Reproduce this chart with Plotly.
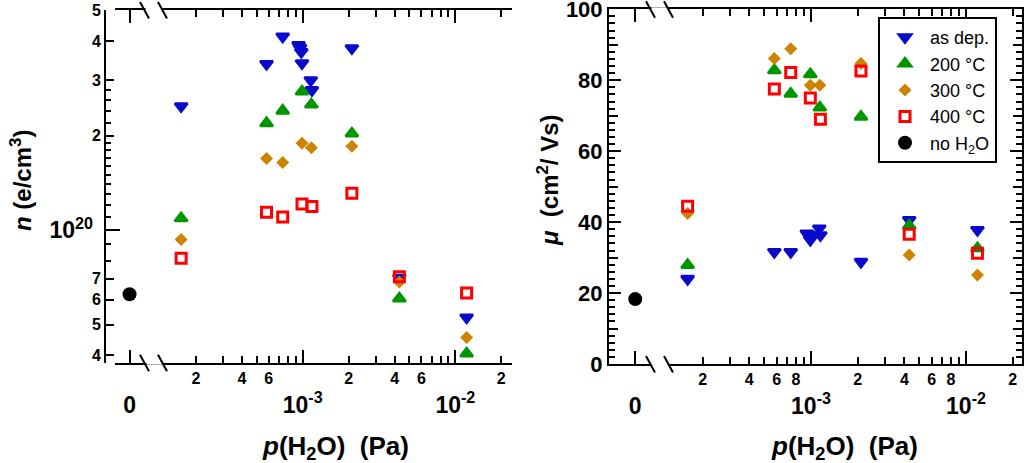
import plotly.graph_objects as go

# where the "0" (no water) point sits on the broken log axis
ZERO_X = 7.35e-5

# p(H2O) in Pa for each series
x_dep = [1.6e-4, 5.8e-4, 7.4e-4, 9.4e-4, 9.6e-4, 9.8e-4, 9.9e-4, 1.13e-3, 1.15e-3, 2.1e-3, 4.3e-3, 1.185e-2]
x_200 = [1.6e-4, 5.8e-4, 7.4e-4, 9.9e-4, 1.14e-3, 2.1e-3, 4.3e-3, 1.185e-2]
x_300 = [1.6e-4, 5.8e-4, 7.4e-4, 9.9e-4, 1.14e-3, 2.1e-3, 4.3e-3, 1.185e-2]
x_400 = [1.6e-4, 5.8e-4, 7.4e-4, 9.9e-4, 1.15e-3, 2.1e-3, 4.3e-3, 1.185e-2]

# carrier density n (e/cm3)
n_dep = [2.48e20, 3.38e20, 4.13e20, 3.88e20, 3.80e20, 3.69e20, 3.40e20, 3.00e20, 2.79e20, 3.79e20, 7.05e19, 5.27e19]
n_200 = [1.09e20, 2.19e20, 2.40e20, 2.76e20, 2.51e20, 2.03e20, 6.06e19, 4.05e19]
n_300 = [9.34e19, 1.69e20, 1.64e20, 1.89e20, 1.83e20, 1.85e20, 6.84e19, 4.55e19]
n_400 = [8.13e19, 1.14e20, 1.10e20, 1.21e20, 1.19e20, 1.31e20, 7.10e19, 6.31e19]
n_noh2o = [6.25e19]

# mobility mu (cm2/Vs)
mu_dep = [24.0, 31.6, 31.6, 36.8, 36.5, 35.8, 35.0, 38.2, 36.3, 28.8, 40.6, 37.8]
mu_200 = [27.9, 82.8, 76.2, 81.7, 72.3, 69.7, 39.0, 32.6]
mu_300 = [42.4, 86.1, 88.9, 78.6, 78.6, 84.7, 30.7, 25.1]
mu_400 = [44.5, 77.5, 82.2, 75.0, 69.0, 82.6, 36.6, 31.2]
mu_noh2o = [18.3]

FONT = "Liberation Sans, Arial, sans-serif"
W, H = 1024, 463

series = [
    ("as dep.", x_dep, n_dep, mu_dep, "triangle-down", "#0A0ACC", 11, 2.5),
    ("200 °C", x_200, n_200, mu_200, "triangle-up", "#009600", 11, 2.5),
    ("300 °C", x_300, n_300, mu_300, "diamond", "#CC8400", 10, 0),
    ("400 °C", x_400, n_400, mu_400, "square-open", "#FF0000", 10, 3),
    ("no H<sub>2</sub>O", [ZERO_X], n_noh2o, mu_noh2o, "circle", "black", 14, 0),
]

fig = go.Figure()
for i, (name, xs, ns, mus, sym, col, sz, lw) in enumerate(series):
    mk = dict(symbol=sym, color=col, size=sz, line=dict(width=lw, color=col))
    fig.add_trace(go.Scatter(x=xs, y=ns, mode="markers", marker=mk, xaxis="x", yaxis="y",
                             showlegend=False, legendgroup=str(i)))
    fig.add_trace(go.Scatter(x=xs, y=mus, mode="markers", marker=mk, xaxis="x2", yaxis="y2",
                             name=name, legendgroup=str(i)))

# empty traces so that the overlay tick axes get drawn
for xa, ya in [("x3", "y"), ("x", "y3"), ("x4", "y2"), ("x2", "y4")]:
    fig.add_trace(go.Scatter(x=[], y=[], mode="markers", xaxis=xa, yaxis=ya,
                             showlegend=False, hoverinfo="skip"))

# ---- ticks
major_x = [ZERO_X, 1e-3, 1e-2]
major_xt = ["0", "10<sup>-3</sup>", "10<sup>-2</sup>"]

xt_left = [2e-4, 4e-4, 6e-4, 2e-3, 4e-3, 6e-3, 2e-2]
xl_left = ["2", "4", "6", "2", "4", "6", "2"]
xm_left = [3e-4, 5e-4, 7e-4, 8e-4, 9e-4, 3e-3, 5e-3, 7e-3, 8e-3, 9e-3]

xt_right = [2e-4, 4e-4, 6e-4, 8e-4, 2e-3, 4e-3, 6e-3, 8e-3, 2e-2]
xl_right = ["2", "4", "6", "8", "2", "4", "6", "8", "2"]
xm_right = [3e-4, 5e-4, 7e-4, 9e-4, 3e-3, 5e-3, 7e-3, 9e-3]

yt_left = [4e19, 5e19, 6e19, 7e19, 2e20, 3e20, 4e20, 5e20]
yl_left = ["4", "5", "6", "7", "2", "3", "4", "5"]
ym_left = [8e19, 9e19, 1.1e20, 1.2e20, 1.3e20, 1.4e20, 1.5e20, 1.6e20, 1.7e20, 1.8e20, 1.9e20,
           2.2e20, 2.4e20, 2.6e20, 2.8e20]

mu_ticks = [0, 20, 40, 60, 80, 100]
mu_mid = [10, 30, 50, 70, 90]

bold16 = dict(family=FONT, size=16, color="black", weight="bold")
bold23 = dict(family=FONT, size=23, color="black", weight="bold")
common = dict(showgrid=False, zeroline=False, showline=True, linewidth=2, linecolor="black",
              ticks="inside", tickwidth=2, tickcolor="black", mirror="ticks", automargin=False,
              tickangle=0, tickfont=bold16)
overlay = dict(showgrid=False, zeroline=False, showline=False, ticks="inside", tickwidth=2,
               tickcolor="black", mirror="ticks", automargin=False, tickangle=0)

xl_dom = [115 / W, 512 / W]
xr_dom = [609 / W, 1022 / W]
yl_dom = [1 - 362.7 / H, 1 - 10 / H]
yr_dom = [1 - 364 / H, 1 - 9.3 / H]
xl_rng = [-4.229, -1.629]
xr_rng = [-4.303, -1.639]
nl_rng = [19.578, 20.7006]

fig.update_layout(
    template="none",
    width=W, height=H, margin=dict(l=0, r=0, t=0, b=0, autoexpand=False),
    paper_bgcolor="white", plot_bgcolor="white",
    xaxis=dict(type="log", domain=xl_dom, range=xl_rng, anchor="y", tickmode="array",
               tickvals=xt_left, ticktext=xl_left, ticklen=7, ticklabelstandoff=0,
               minor=dict(tickmode="array", tickvals=xm_left, ticks="inside", ticklen=7,
                          tickwidth=2, tickcolor="black", showgrid=False), **common),
    xaxis3=dict(type="log", overlaying="x", anchor="y", range=xl_rng, tickmode="array",
                tickvals=major_x, ticktext=major_xt, ticklen=13, tickfont=bold23,
                ticklabelstandoff=26, **overlay),
    yaxis=dict(type="log", domain=yl_dom, range=nl_rng, anchor="free", position=105 / W,
               tickmode="array", tickvals=yt_left, ticktext=yl_left, ticklen=8,
               minor=dict(tickmode="array", tickvals=ym_left, ticks="inside", ticklen=5,
                          tickwidth=2, tickcolor="black", showgrid=False), **common),
    yaxis3=dict(type="log", overlaying="y", anchor="free", position=105 / W, range=nl_rng,
                tickmode="array", tickvals=[1e20], ticktext=["10<sup>20</sup>"], ticklen=14,
                tickfont=bold23, ticklabelstandoff=12, **overlay),
    xaxis2=dict(type="log", domain=xr_dom, range=xr_rng, anchor="y2", tickmode="array",
                tickvals=xt_right, ticktext=xl_right, ticklen=7, ticklabelstandoff=0,
                minor=dict(tickmode="array", tickvals=xm_right, ticks="inside", ticklen=7,
                           tickwidth=2, tickcolor="black", showgrid=False), **common),
    xaxis4=dict(type="log", overlaying="x2", anchor="y2", range=xr_rng, tickmode="array",
                tickvals=major_x, ticktext=major_xt, ticklen=13, tickfont=bold23,
                ticklabelstandoff=26, **overlay),
    yaxis2=dict(domain=yr_dom, range=[0, 100], anchor="x2", tickmode="array",
                tickvals=mu_ticks, ticklen=12,
                minor=dict(dtick=2, ticks="inside", ticklen=6, tickwidth=2, tickcolor="black",
                           showgrid=False), **common),
    yaxis4=dict(overlaying="y2", anchor="x2", range=[0, 100], tickmode="array",
                tickvals=mu_mid, ticklen=9, showticklabels=False, **overlay),
    legend=dict(x=878 / W, xanchor="left", y=1 - 17 / H, yanchor="top", bgcolor="white",
                bordercolor="black", borderwidth=2, tracegroupgap=0, itemwidth=40,
                entrywidth=105, entrywidthmode="pixels",
                font=dict(family=FONT, size=18, color="black")),
)
fig.update_yaxes(tickfont=dict(size=22), selector=dict(anchor="x2"))

# axis titles
xfont = dict(family=FONT, size=26, color="black", weight="bold")
yfont = dict(family=FONT, size=24, color="black", weight="bold")
ann = dict(xref="paper", yref="paper", showarrow=False, xanchor="center", yanchor="middle")
fig.add_annotation(text="<i>p</i>(H<sub>2</sub>O) &nbsp;(Pa)", x=335 / W, y=1 - 447 / H, font=xfont, **ann)
fig.add_annotation(text="<i>p</i>(H<sub>2</sub>O) &nbsp;(Pa)", x=844 / W, y=1 - 447 / H, font=xfont, **ann)
fig.add_annotation(text="<i>n</i> (e/cm<sup>3</sup>)", x=21 / W, y=1 - 181 / H, textangle=-90, font=yfont, **ann)
fig.add_annotation(text="<i>μ</i> &nbsp;(cm<sup>2</sup>/ Vs)", x=548 / W, y=1 - 180 / H, textangle=-90,
                   font=yfont, **ann)

# axis break marks
def brk(x0, y_axis, gap0, gap1):
    fig.add_shape(type="line", xref="paper", yref="paper", x0=gap0 / W, x1=gap1 / W,
                  y0=1 - y_axis / H, y1=1 - y_axis / H, line=dict(color="white", width=4), layer="above")
    for dx in (0, 18):
        fig.add_shape(type="line", xref="paper", yref="paper",
                      x0=(x0 + dx) / W, x1=(x0 + dx + 9) / W,
                      y0=1 - (y_axis - 8) / H, y1=1 - (y_axis + 8.5) / H,
                      line=dict(color="black", width=2), layer="above")

brk(140, 362.7, 146.5, 162.5)
brk(140, 10, 145.5, 162)
brk(646, 364, 651.5, 668)
brk(646, 9.3, 651.5, 668)

fig.write_html("out.html", config={"displayModeBar": False},
               post_script="document.body.style.margin='0px';document.body.style.overflow='hidden';")
